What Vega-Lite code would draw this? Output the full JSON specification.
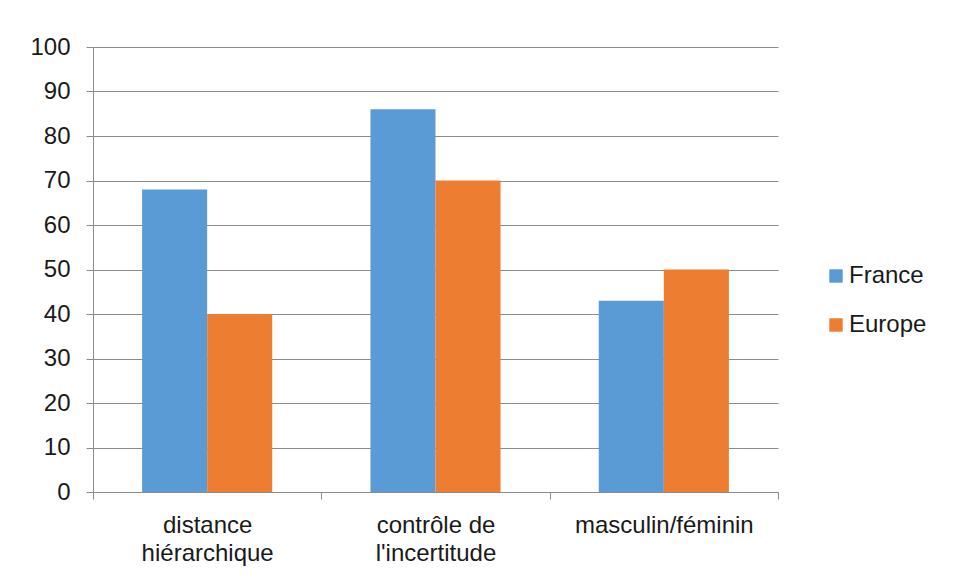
{
  "$schema": "https://vega.github.io/schema/vega-lite/v6.json",
  "autosize": "none",
  "width": 685,
  "height": 445,
  "padding": {"left": 93, "top": 47, "right": 177, "bottom": 88},
  "background": "white",
  "data": {
    "values": [
      {"dimension": "distance hiérarchique", "zone": "France", "score": 68},
      {"dimension": "distance hiérarchique", "zone": "Europe", "score": 40},
      {"dimension": "contrôle de l'incertitude", "zone": "France", "score": 86},
      {"dimension": "contrôle de l'incertitude", "zone": "Europe", "score": 70},
      {"dimension": "masculin/féminin", "zone": "France", "score": 43},
      {"dimension": "masculin/féminin", "zone": "Europe", "score": 50}
    ]
  },
  "mark": {"type": "bar"},
  "encoding": {
    "x": {
      "field": "dimension",
      "type": "nominal",
      "sort": null,
      "title": null,
      "scale": {"paddingInner": 0, "paddingOuter": 0},
      "axis": {
        "labelAngle": 0,
        "labelFont": "Liberation Sans",
        "labelFontSize": 24,
        "labelColor": "#1a1a1a",
        "labelPadding": 14,
        "labelLineHeight": 28,
        "labelExpr": "datum.value == 'distance hiérarchique' ? ['distance', 'hiérarchique'] : datum.value == \"contrôle de l'incertitude\" ? ['contrôle de', \"l'incertitude\"] : datum.value",
        "tickBand": "extent",
        "tickSize": 7,
        "tickColor": "#8c8c8c",
        "domainColor": "#8c8c8c",
        "grid": false
      }
    },
    "xOffset": {"field": "zone", "type": "nominal", "sort": ["France", "Europe"], "scale": {"paddingInner": 0, "paddingOuter": 0.755}},
    "y": {
      "field": "score",
      "type": "quantitative",
      "title": null,
      "scale": {"domain": [0, 100]},
      "axis": {
        "values": [0, 10, 20, 30, 40, 50, 60, 70, 80, 90, 100],
        "labelFont": "Liberation Sans",
        "labelFontSize": 24,
        "labelColor": "#1a1a1a",
        "labelPadding": 16,
        "tickSize": 7,
        "tickColor": "#8c8c8c",
        "domainColor": "#8c8c8c",
        "gridColor": "#8c8c8c",
        "grid": true
      }
    },
    "color": {
      "field": "zone",
      "type": "nominal",
      "sort": ["France", "Europe"],
      "scale": {"domain": ["France", "Europe"], "range": ["#5B9BD5", "#ED7D31"]},
      "legend": {
        "title": null,
        "orient": "none",
        "legendX": 731,
        "legendY": 217,
        "symbolType": "square",
        "symbolSize": 180,
        "symbolStrokeWidth": 0,
        "symbolOpacity": 1,
        "labelFont": "Liberation Sans",
        "labelFontSize": 24,
        "labelColor": "#1a1a1a",
        "labelOffset": 1,
        "rowPadding": 25
      }
    }
  },
  "config": {"view": {"stroke": null}}
}
